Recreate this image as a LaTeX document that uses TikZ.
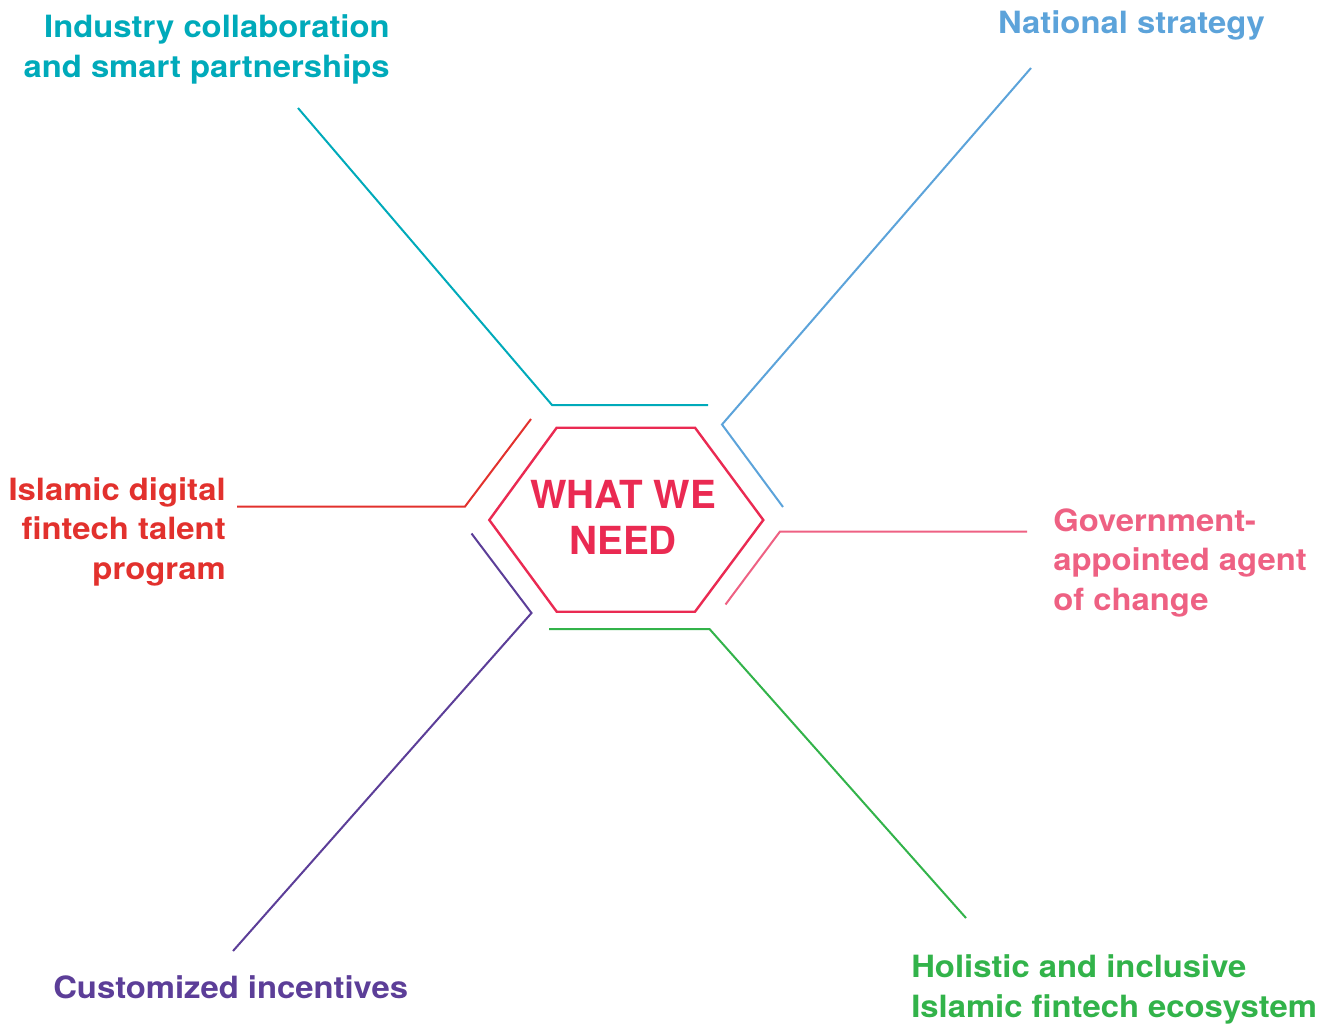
\documentclass[tikz,border=0pt]{standalone}
\usepackage{fontspec}
\setmainfont{TeX Gyre Heros}[FakeStretch=1.07]
\newfontfamily\ctrfont{TeX Gyre Heros}
\definecolor{cteal}{RGB}{0,170,186}
\definecolor{cblue}{RGB}{92,163,218}
\definecolor{cred}{RGB}{226,49,45}
\definecolor{cpurple}{RGB}{92,62,152}
\definecolor{cpink}{RGB}{238,97,131}
\definecolor{cgreen}{RGB}{50,179,74}
\definecolor{ccrim}{RGB}{234,42,82}
\tikzset{
  lbl/.style={inner sep=0pt, font=\bfseries\fontsize{23}{29.5}\selectfont},
  ctr/.style={inner sep=0pt, align=center, font=\ctrfont\bfseries\fontsize{29}{34.5}\selectfont, text=ccrim},
  conn/.style={line width=1.5pt, line join=miter},
}
\begin{document}
\begin{tikzpicture}[x=0.75pt,y=-0.75pt]
\useasboundingbox (0,0) rectangle (1333,1024);
% hexagon
\coordinate (h1) at (556.7,427.7);
\coordinate (h2) at (695,427.7);
\coordinate (h3) at (763.3,520);
\coordinate (h4) at (695,611.7);
\coordinate (h5) at (556.7,611.7);
\coordinate (h6) at (489.3,520);
\draw[ccrim, line width=1.8pt, line join=miter] (h1) -- (h2) -- (h3) -- (h4) -- (h5) -- (h6) -- cycle;
\node[ctr, anchor=base] (center) at (623,554) {WHAT WE\\NEED};

% labels (base anchor = baseline of last line)
\node[lbl, text=cteal, align=right, anchor=base east] (ind) at (390,77) {Industry collaboration\\and smart partnerships};
\node[lbl, text=cblue, anchor=base east] (nat) at (1265,34) {National strategy};
\node[lbl, text=cred, align=right, anchor=base east] (isl) at (226,579) {Islamic digital\\fintech talent\\program};
\node[lbl, text=cpink, align=left, anchor=base west] (gov) at (1053,610) {Government-\\appointed agent\\of change};
\node[lbl, text=cpurple, anchor=base west] (cus) at (53,998) {Customized incentives};
\node[lbl, text=cgreen, align=left, anchor=base west] (hol) at (911,1017) {Holistic and inclusive\\Islamic fintech ecosystem};

% connector points
\coordinate (t0) at (298,108); \coordinate (t1) at (552,405); \coordinate (t2) at (708,405);
\coordinate (b0) at (1031,68); \coordinate (b1) at (722,424.5); \coordinate (b2) at (783,507);
\coordinate (r0) at (237,506.5); \coordinate (r1) at (465,506.5); \coordinate (r2) at (531,419);
\coordinate (p0) at (233,951); \coordinate (p1) at (531.5,613); \coordinate (p2) at (471.5,533.5);
\coordinate (k0) at (1027,531.5); \coordinate (k1) at (780,531.5); \coordinate (k2) at (725.5,604.5);
\coordinate (g0) at (549,629); \coordinate (g1) at (709.5,629); \coordinate (g2) at (966,918);

\draw[conn, cteal] (t0) -- (t1) -- (t2);
\draw[conn, cblue] (b0) -- (b1) -- (b2);
\draw[conn, cred] (r0) -- (r1) -- (r2);
\draw[conn, cpurple] (p0) -- (p1) -- (p2);
\draw[conn, cpink] (k0) -- (k1) -- (k2);
\draw[conn, cgreen] (g0) -- (g1) -- (g2);
\end{tikzpicture}
\end{document}
